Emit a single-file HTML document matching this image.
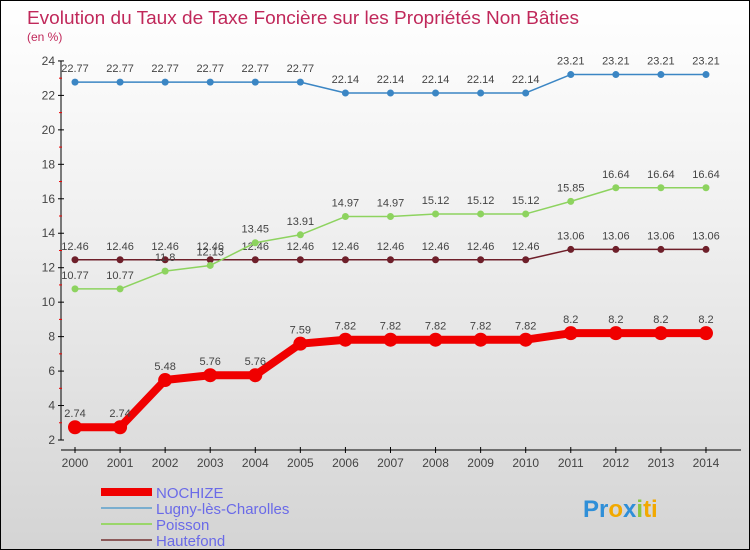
<!DOCTYPE html>
<html><head><meta charset="utf-8"><style>
body{margin:0}
#c{width:748px;height:548px;border:1px solid #000;background:linear-gradient(#fff,#f0f0f0 40%,#d4d4d4);position:relative;overflow:hidden;font-family:"Liberation Sans",sans-serif}
</style></head><body>
<div id="c">
<svg id="s" width="748" height="548"></svg>
</div>
<script>
const years=[2000,2001,2002,2003,2004,2005,2006,2007,2008,2009,2010,2011,2012,2013,2014];
const nochize=[2.74,2.74,5.48,5.76,5.76,7.59,7.82,7.82,7.82,7.82,7.82,8.2,8.2,8.2,8.2];
const lugny=[22.77,22.77,22.77,22.77,22.77,22.77,22.14,22.14,22.14,22.14,22.14,23.21,23.21,23.21,23.21];
const poisson=[10.77,10.77,11.8,12.13,13.45,13.91,14.97,14.97,15.12,15.12,15.12,15.85,16.64,16.64,16.64];
const hautefond=[12.46,12.46,12.46,12.46,12.46,12.46,12.46,12.46,12.46,12.46,12.46,13.06,13.06,13.06,13.06];
const yTicks=[2,4,6,8,10,12,14,16,18,20,22,24];
const seriesNames=["NOCHIZE","Lugny-lès-Charolles","Poisson","Hautefond"];
const NS="http://www.w3.org/2000/svg",s=document.getElementById('s');
const X=i=>74+i*45.07, Y=v=>439-(v-2)*17.23;
function el(t,a,p){const e=document.createElementNS(NS,t);for(const k in a)e.setAttribute(k,a[k]);(p||s).appendChild(e);return e;}
function tx(x,y,str,o){const e=el('text',Object.assign({x:x,y:y,'font-size':12,fill:'#444','font-family':'Liberation Sans,sans-serif'},o||{}));e.textContent=str;return e;}
let t=tx(26,23,"Evolution du Taux de Taxe Foncière sur les Propriétés Non Bâties",{'font-size':18.5,fill:'#c0285a',textLength:552,lengthAdjust:'spacingAndGlyphs'});

t=tx(26,40,"(en %)",{'font-size':12,fill:'#c0285a'});

let a=el('line',{x1:60,y1:Y(24),x2:60,y2:Y(2),stroke:'#000'});

a=el('line',{x1:60,y1:449,x2:740,y2:449,stroke:'#000'});

yTicks.forEach(v=>{el('line',{x1:57,x2:63,y1:Y(v),y2:Y(v),stroke:'#000'});
 if(v<24)el('line',{x1:58,x2:61,y1:Y(v+1),y2:Y(v+1),stroke:'#e00'});
 const l=tx(54,Y(v)+4,String(v),{'text-anchor':'end'});});
years.forEach((y,i)=>{el('line',{x1:X(i),x2:X(i),y1:446,y2:452,stroke:'#000'});
 const l=tx(X(i),466,String(y),{'text-anchor':'middle'});});
function series(d,col,w,r,name){
 const g=el('g',{});
 el('polyline',{points:d.map((v,i)=>X(i)+','+Y(v)).join(' '),fill:'none',stroke:col,'stroke-width':w,'stroke-linejoin':'round'},g);
 d.forEach((v,i)=>{const c=el('circle',{cx:X(i),cy:Y(v),r:r,fill:col},g);
  
  tx(X(i),Y(v)-10,String(v),{'text-anchor':'middle','font-size':11},g);});
}
series(hautefond,'#6e1f2a',1.5,3.5,'hautefond');
series(poisson,'#8dd35f',1.5,3.5,'poisson');
series(lugny,'#3b86c4',1.5,3.5,'lugny');
series(nochize,'#f00000',8,7,'nochize');
const lc=['#f00000','#7aaecf','#9ad66a','#8c5a5a'],lw=[8,2,2,2];
seriesNames.forEach((n,i)=>{const g=el('g',{});
 const yy=491+i*16;el('line',{x1:100,x2:151,y1:yy,y2:yy,stroke:lc[i],'stroke-width':lw[i]},g);
 tx(155,yy+6,n,{'font-size':15,fill:'#6a6ae8'},g);});
const p=el('text',{x:582,y:516,'font-size':24,'font-weight':'bold','font-family':'Liberation Sans,sans-serif'});

[['Pr','#2f8fd8'],['o','#f2a900'],['x','#2f8fd8'],['i','#8cc63f'],['ti','#f2a900']].forEach(([c,f])=>{const sp=el('tspan',{fill:f},p);sp.textContent=c;});
</script>
</body></html>
